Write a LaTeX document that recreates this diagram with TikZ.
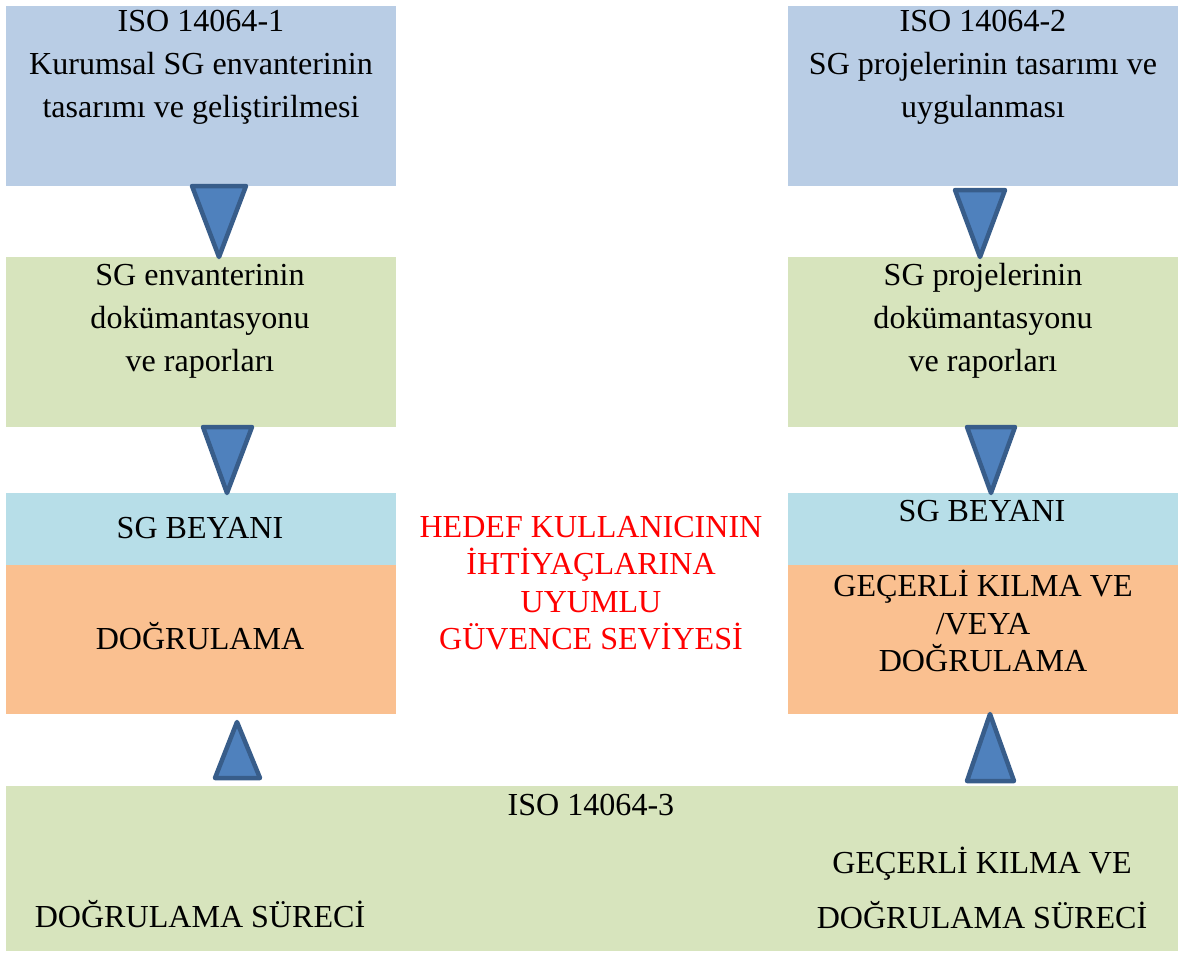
\documentclass[tikz,border=0pt]{standalone}
\usepackage{fontspec}
\setmainfont{Liberation Serif}
\usetikzlibrary{positioning}
\newlength\pxu
\setlength\pxu{0.025cm}
\definecolor{isoblue}{RGB}{185,205,229}
\definecolor{docgreen}{RGB}{215,228,189}
\definecolor{beyblue}{RGB}{183,222,232}
\definecolor{dogorange}{RGB}{250,192,144}
\definecolor{trifill}{RGB}{79,129,189}
\definecolor{tridraw}{RGB}{56,93,138}
\tikzset{
	box/.style={
		rectangle, anchor=north west,
		inner sep=0pt, outer sep=0pt,
		minimum width=390\pxu
	},
	lbl/.style={
		align=center, inner sep=0pt,
		font=\fontsize{22.8}{30.5}\selectfont
	},
	lbl tight/.style={lbl, font=\fontsize{22.8}{26.6}\selectfont},
	lbl wide/.style={lbl, font=\fontsize{22.8}{39.6}\selectfont},
	tri/.style={fill=trifill, draw=tridraw, line width=3.2pt, line join=round}
}

\begin{document}
\begin{tikzpicture}[x=1\pxu, y=-1\pxu]
	\useasboundingbox (0,0) rectangle (1178,954);

	% boxes
	\node[box, fill=isoblue,    minimum height=180\pxu] (iso1) at (6,6)   {};
	\node[box, fill=isoblue,    minimum height=180\pxu] (iso2) at (788,6) {};
	\node[box, fill=docgreen,   minimum height=170\pxu] (env1) at (6,257)   {};
	\node[box, fill=docgreen,   minimum height=170\pxu] (env2) at (788,257) {};
	\node[box, fill=beyblue,    minimum height=72\pxu]  (bey1) at (6,493)   {};
	\node[box, fill=beyblue,    minimum height=72\pxu]  (bey2) at (788,493) {};
	\node[box, fill=dogorange,  minimum height=149\pxu] (dog1) at (6,565)   {};
	\node[box, fill=dogorange,  minimum height=149\pxu] (dog2) at (788,565) {};
	\node[box, fill=docgreen,   minimum height=165\pxu, minimum width=1172\pxu] (iso3) at (6,786) {};

	% labels
	\node[lbl] (t1) at (201,67) {ISO 14064-1\\Kurumsal SG envanterinin\\tasarımı ve geliştirilmesi};
	\node[lbl] (t2) at (983,67) {ISO 14064-2\\SG projelerinin tasarımı ve\\uygulanması};
	\node[lbl] (t3) at (200,321) {SG envanterinin\\dokümantasyonu\\ve raporları};
	\node[lbl] (t4) at (983,321) {SG projelerinin\\dokümantasyonu\\ve raporları};
	\node[lbl] (t5) at (200,528) {SG BEYANI};
	\node[lbl] (t6) at (982,511) {SG BEYANI};
	\node[lbl] (t7) at (200,636) {DOĞRULAMA};
	\node[lbl tight] (t8) at (983,621) {GEÇERLİ KILMA VE\\/VEYA\\DOĞRULAMA};
	\node[lbl tight, text=red] (t9) at (591,583) {HEDEF KULLANICININ\\İHTİYAÇLARINA\\UYUMLU\\GÜVENCE SEVİYESİ};
	\node[lbl] (t10) at (591,805) {ISO 14064-3};
	\node[lbl] (t11) at (200,914) {DOĞRULAMA SÜRECİ};
	\node[lbl wide] (t12) at (982,888) {GEÇERLİ KILMA VE\\DOĞRULAMA SÜRECİ};

	% block arrows
	\draw[tri] (192,0 |- iso1.south) -- (246,0 |- iso1.south) -- (219,0 |- env1.north) -- cycle;
	\draw[tri] (203,0 |- env1.south) -- (252,0 |- env1.south) -- (227,0 |- bey1.north) -- cycle;
	\draw[tri] (955,190) -- (1005,190) -- (980,0 |- env2.north) -- cycle;
	\draw[tri] (967,0 |- env2.south) -- (1015,0 |- env2.south) -- (991,0 |- bey2.north) -- cycle;
	\draw[tri] (215,778) -- (260,778) -- (237,722) -- cycle;
	\draw[tri] (967,781) -- (1014,781) -- (990,0 |- dog2.south) -- cycle;
\end{tikzpicture}
\end{document}
